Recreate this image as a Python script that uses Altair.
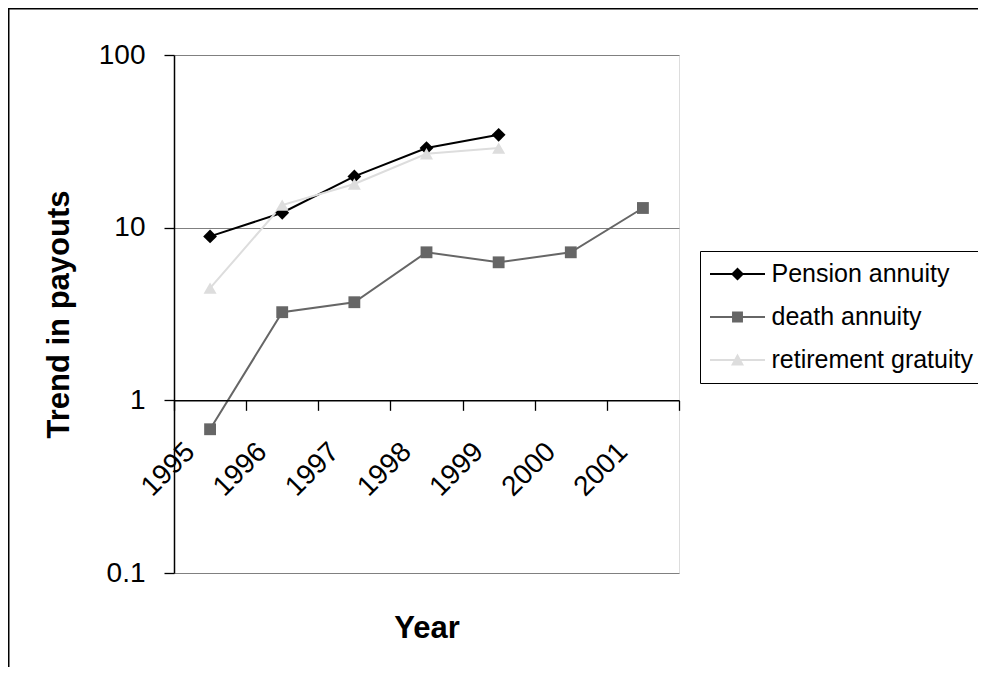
import altair as alt
import pandas as pd

# ---- data ----
years = ["1995", "1996", "1997", "1998", "1999", "2000", "2001"]
series_names = ["Pension annuity", "death annuity", "retirement gratuity"]
pension = [8.9, 12.2, 19.8, 28.9, 34.5]
death = [0.68, 3.24, 3.70, 7.2, 6.3, 7.2, 13.0]
retirement = [4.46, 13.5, 17.9, 26.8, 28.9]
colors = ["#000000", "#666666", "#dddddd"]
shapes = ["diamond", "square", "triangle-up"]
sizes = [190, 140, 170]
y_ticks = [0.1, 1, 10, 100]

rows = []
for name, vals in zip(series_names, [pension, death, retirement]):
    for yr, v in zip(years, vals):
        rows.append({"Year": yr, "series": name, "value": v})
df = pd.DataFrame(rows)

W, H = 505, 518
FONT = "Liberation Sans"

# legend symbols: thin bar (line) + marker, unit = 13px, all sub-paths clockwise
BAR = "M-2.115,-0.077H2.115V0.077H-2.115Z"
leg_shapes = [
    BAR + "M0,-0.5L0.5,0L0,0.5L-0.5,0Z",
    BAR + "M-0.42,-0.42H0.42V0.42H-0.42Z",
    BAR + "M0,-0.5L0.5,0.42H-0.5Z",
]

x_enc = alt.X(
    "Year:O",
    scale=alt.Scale(type="band", paddingInner=0, paddingOuter=0, domain=years),
    axis=alt.Axis(
        title="Year", titleFontSize=31, titleFontWeight="bold", titleFont=FONT,
        titleColor="black", titleY=237, titleBaseline="alphabetic",
        labelFontSize=28, labelFont=FONT, labelColor="black",
        labelAngle=315, labelAlign="right", labelBaseline="middle",
        labelOffset=-20, labelPadding=37,
        tickBand="extent", tickSize=10, tickColor="black", tickWidth=1.3,
        domainColor="black", domainWidth=1.5,
        offset=-H / 3.0, grid=False, zindex=1,
    ),
)
y_enc = alt.Y(
    "value:Q",
    scale=alt.Scale(type="log", domain=[0.1, 100], nice=False),
    axis=alt.Axis(
        values=y_ticks, format="~g",
        title="Trend in payouts", titleFontSize=31, titleFontWeight="bold", titleFont=FONT,
        titleColor="black", titleAngle=270, titleX=-106, titleY=H / 2,
        titleAlign="center", titleBaseline="alphabetic",
        labelFontSize=28, labelFont=FONT, labelColor="black", labelPadding=19,
        tickSize=10, tickColor="black", tickWidth=1.3,
        domainColor="black", domainWidth=1.5,
        grid=True, gridColor="#808080", gridWidth=1,
    ),
)

legend = alt.Legend(
    title=None, orient="none", legendX=526, legendY=196,
    padding=10, strokeColor="black", fillColor="white",
    labelFontSize=25, labelFont=FONT, labelColor="black", labelLimit=0,
    symbolSize=676, symbolOffset=14.5, labelOffset=21, rowPadding=17,
    symbolStrokeWidth=0, symbolOpacity=1,
)

base = alt.Chart(df)

# invisible layer that only carries the legend (line + marker symbols)
legend_layer = base.mark_point(filled=True, opacity=0).encode(
    x=x_enc, y=y_enc,
    color=alt.Color("series:N", scale=alt.Scale(domain=series_names, range=colors),
                    legend=legend, sort=series_names),
    shape=alt.Shape("series:N", scale=alt.Scale(domain=series_names, range=leg_shapes),
                    legend=legend, sort=series_names),
)

lines = base.mark_line(strokeWidth=2).encode(
    x=x_enc, y=y_enc,
    stroke=alt.Stroke("series:N", scale=alt.Scale(domain=series_names, range=colors), legend=None),
)

point_layers = []
for name, col, shp, sz in zip(series_names, colors, shapes, sizes):
    point_layers.append(
        base.transform_filter(alt.datum.series == name)
        .mark_point(filled=True, opacity=1, shape=shp, size=sz, color=col)
        .encode(x=x_enc, y=y_enc)
    )

frame_df = pd.DataFrame({"k": [0]})
frame_v = alt.Chart(frame_df).mark_rule(color="black", strokeWidth=2).encode(
    x=alt.value(-165.5), y=alt.value(-47), y2=alt.value(700))
frame_h = alt.Chart(frame_df).mark_rule(color="black", strokeWidth=2).encode(
    x=alt.value(-167), x2=alt.value(900), y=alt.value(-46.5))

chart = alt.layer(legend_layer, lines, *point_layers, frame_v, frame_h).properties(
    width=W, height=H,
    autosize=alt.AutoSizeParams(type="none"),
    padding={"left": 166, "top": 47, "right": 299, "bottom": 94},
    background="white",
).configure_view(stroke="#808080", strokeWidth=1.3).configure(font=FONT)

chart.save("out.html", embed_options={"renderer": "svg", "actions": False})
